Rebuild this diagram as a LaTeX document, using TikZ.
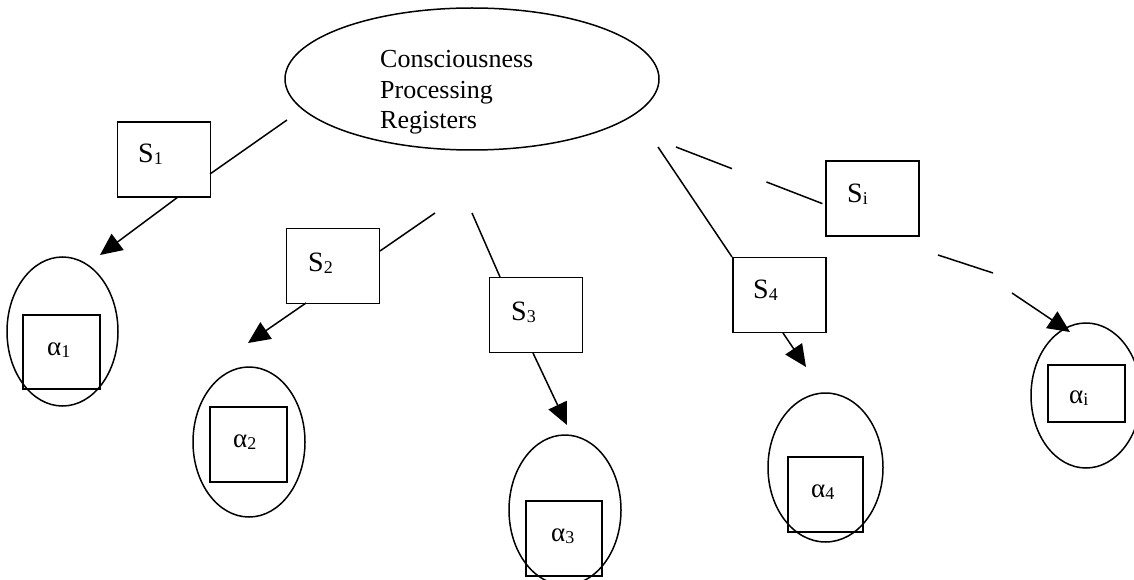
\documentclass[tikz,border=0pt]{standalone}
\usepackage{fontspec}
\setmainfont{Liberation Serif}
\usetikzlibrary{shapes.geometric,arrows.meta}
\newcommand{\mysub}[1]{\raisebox{-2pt}{\fontsize{18}{18}\selectfont #1}}
\tikzset{
  ln/.style={line width=1.5pt},
  arr/.style={line width=1.5pt, -{Triangle[length=22pt,width=20pt]}},
  dsh/.style={line width=1.5pt, dash pattern=on 60pt off 37pt},
  sbox/.style={draw, line width=1.5pt, minimum width=93pt, minimum height=75pt, inner sep=0pt},
  abox/.style={draw, line width=1.5pt, inner sep=0pt},
  oval/.style={draw, ellipse, line width=1.5pt, inner sep=0pt},
  stxt/.style={anchor=base west, inner sep=0pt, font=\fontsize{28}{28}\selectfont},
  atxt/.style={anchor=base west, inner sep=0pt, font=\fontsize{27}{27}\selectfont},
}
\begin{document}
\begin{tikzpicture}[x=1pt, y=-1pt]
\useasboundingbox (0,0) rectangle (1134,580);
\clip (0,0) rectangle (1134,580);
% central ellipse
\node[oval, minimum width=374pt, minimum height=142pt] (e) at (472,79) {};
\node[anchor=base west, align=left, inner sep=0pt, font=\fontsize{26}{30.5}\selectfont] (etext) at (380,129) {Consciousness\\Processing\\Registers};
% S boxes
\node[sbox] (s1) at (164,159.5) {};
\node[sbox] (s2) at (333,266) {};
\node[sbox] (s3) at (536,315) {};
\node[sbox] (s4) at (779.5,295) {};
\node[sbox] (si) at (872.5,198.5) {};
\node[stxt] (s1t) at (138,163) {S\mysub{1}};
\node[stxt] (s2t) at (308,271) {S\mysub{2}};
\node[stxt] (s3t) at (511,320) {S\mysub{3}};
\node[stxt] (s4t) at (753,298) {S\mysub{4}};
\node[stxt] (sit) at (847,202) {S\mysub{i}};
% target ovals
\node[oval, minimum width=111pt, minimum height=149pt] (o1) at (62.5,331.5) {};
\node[oval, minimum width=112pt, minimum height=150pt] (o2) at (249,442) {};
\node[oval, minimum width=112pt, minimum height=150pt] (o3) at (565,510) {};
\node[oval, minimum width=115pt, minimum height=149pt] (o4) at (825.5,467.5) {};
\node[oval, minimum width=110pt, minimum height=145pt] (oi) at (1086,395.5) {};
% alpha boxes
\node[abox, minimum width=77pt, minimum height=74pt] (a1) at (61.5,352) {};
\node[abox, minimum width=77pt, minimum height=75pt] (a2) at (248.5,444.5) {};
\node[abox, minimum width=76pt, minimum height=75pt] (a3) at (564,538.5) {};
\node[abox, minimum width=75pt, minimum height=75pt] (a4) at (825.5,494.5) {};
\node[abox, minimum width=77pt, minimum height=57pt] (ai) at (1086.5,393.5) {};
\node[atxt] (a1t) at (47,355) {α\mysub{1}};
\node[atxt] (a2t) at (233,447) {α\mysub{2}};
\node[atxt] (a3t) at (551,541) {α\mysub{3}};
\node[atxt] (a4t) at (811,497) {α\mysub{4}};
\node[atxt] (ait) at (1069,403) {α\mysub{i}};
% connector end points
\coordinate (e1) at (287,120);   \coordinate (s1in) at (210,174);
\coordinate (s1out) at (178,197); \coordinate (o1tip) at (100,255);
\coordinate (e2) at (435,213);   \coordinate (s2in) at (380,251);
\coordinate (s2out) at (306,303); \coordinate (o2tip) at (248,343);
\coordinate (e3) at (472,213);   \coordinate (s3in) at (500,277);
\coordinate (s3out) at (533,353); \coordinate (o3tip) at (567,425);
\coordinate (e4) at (658,147);   \coordinate (s4in) at (732,257);
\coordinate (s4out) at (783,333); \coordinate (o4tip) at (806,367);
\coordinate (ei) at (676,147);   \coordinate (siin) at (826,205);
\coordinate (siout) at (938,255); \coordinate (sim) at (993,273);
\coordinate (sim2) at (1012,293); \coordinate (oitip) at (1070,332);
% connectors
\draw[ln] (e1) -- (s1in);
\draw[arr] (s1out) -- (o1tip);
\draw[ln] (e2) -- (s2in);
\draw[arr] (s2out) -- (o2tip);
\draw[ln] (e3) -- (s3in);
\draw[arr] (s3out) -- (o3tip);
\draw[ln] (e4) -- (s4in);
\draw[arr] (s4out) -- (o4tip);
\draw[dsh] (ei) -- (siin);
\draw[ln] (siout) -- (sim);
\draw[arr] (sim2) -- (oitip);
\end{tikzpicture}
\end{document}
